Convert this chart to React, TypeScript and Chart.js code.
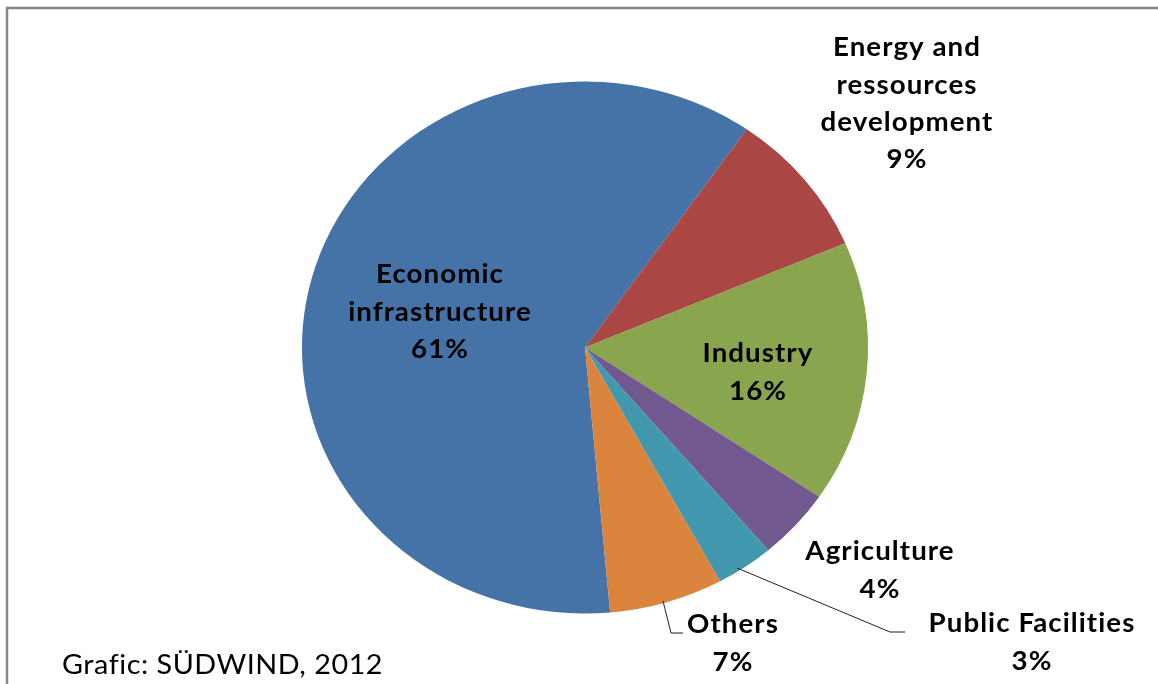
import React, { useEffect, useRef } from "react";
import { Chart, registerables } from "chart.js";

Chart.register(...registerables);

const categories = [
  "Economic infrastructure",
  "Energy and ressources development",
  "Industry",
  "Agriculture",
  "Public Facilities",
  "Others",
];
const shares = [61.1, 8.9, 15.9, 4.3, 3.3, 6.5];
const percentLabels = ["61%", "9%", "16%", "4%", "3%", "7%"];
const labelLines = [
  ["Economic", "infrastructure"],
  ["Energy and", "ressources", "development"],
  ["Industry"],
  ["Agriculture"],
  ["Public Facilities"],
  ["Others"],
];
const colors = ["#4572A7", "#AA4643", "#89A54E", "#71588F", "#4198AF", "#DB843D"];
const sourceNote = "Grafic: SÜDWIND, 2012";

// layout (pixel positions of label blocks: center x, first line y)
const labelPos = [
  [440, 275],
  [907, 48],
  [758, 354],
  [880, 552],
  [1032, 624],
  [733, 625],
];
const leaderLines: number[][][] = [
  [],
  [],
  [],
  [],
  [[737, 568], [890, 632], [905, 632]],
  [[663, 601], [671, 633], [683, 633]],
];
const X_STRETCH = 1.064;
const LINE_H = 37.3;

export default function App() {
  const ref = useRef<HTMLCanvasElement | null>(null);
  useEffect(() => {
    document.body.style.margin = "0";
    const canvas = ref.current!;
    const ellipsePlugin = {
      id: "ellipse",
      beforeDatasetsDraw(chart: any) {
        const meta = chart.getDatasetMeta(0);
        const arc = meta.data[0];
        const ctx = chart.ctx;
        ctx.save();
        ctx.translate(arc.x, arc.y);
        ctx.scale(X_STRETCH, 1);
        ctx.translate(-arc.x, -arc.y);
      },
      afterDatasetsDraw(chart: any) {
        chart.ctx.restore();
      },
    };
    const annot = {
      id: "annot",
      beforeDraw(chart: any) {
        const ctx = chart.ctx;
        ctx.save();
        ctx.strokeStyle = "#868686";
        ctx.lineWidth = 2.5;
        ctx.beginPath();
        ctx.moveTo(7, 700);
        ctx.lineTo(7, 8);
        ctx.lineTo(1170, 8);
        ctx.stroke();
        ctx.restore();
      },
      afterDraw(chart: any) {
        const ctx = chart.ctx;
        ctx.save();
        ctx.strokeStyle = "#222";
        ctx.lineWidth = 1;
        leaderLines.forEach((pts) => {
          if (!pts.length) return;
          ctx.beginPath();
          pts.forEach((p, i) => (i ? ctx.lineTo(p[0], p[1]) : ctx.moveTo(p[0], p[1])));
          ctx.stroke();
        });
        ctx.fillStyle = "#000";
        ctx.textAlign = "center";
        ctx.textBaseline = "middle";
        ctx.font = "bold 26px Lato";
        (ctx as any).letterSpacing = "1px";
        categories.forEach((_, i) => {
          const lines = [...labelLines[i], percentLabels[i]];
          const [x, y] = labelPos[i];
          lines.forEach((t, j) => {
            ctx.save();
            ctx.translate(x, y + j * LINE_H);
            ctx.scale(X_STRETCH, 1);
            ctx.fillText(t, 0, 0);
            ctx.restore();
          });
        });
        ctx.textAlign = "left";
        ctx.font = "27px Lato";
        (ctx as any).letterSpacing = "0.5px";
        ctx.save();
        ctx.translate(62, 665);
        ctx.scale(X_STRETCH, 1);
        ctx.fillText(sourceNote, 0, 0);
        ctx.restore();
        ctx.restore();
      },
    };
    const chart = new Chart(canvas, {
      type: "pie",
      data: {
        labels: categories,
        datasets: [
          {
            data: shares,
            backgroundColor: colors,
            borderWidth: 0,
          },
        ],
      },
      options: {
        animation: false,
        responsive: true,
        maintainAspectRatio: false,
        rotation: 174.9,
        layout: { padding: { top: 81.5, bottom: 70.5, left: 319, right: 307 } },
        plugins: { legend: { display: false }, tooltip: { enabled: false } },
      },
      plugins: [ellipsePlugin, annot],
    });
    return () => chart.destroy();
  }, []);
  return (
    <div style={{ width: 1158, height: 684, position: "relative", background: "#fff" }}>
      <canvas ref={ref} />
    </div>
  );
}
